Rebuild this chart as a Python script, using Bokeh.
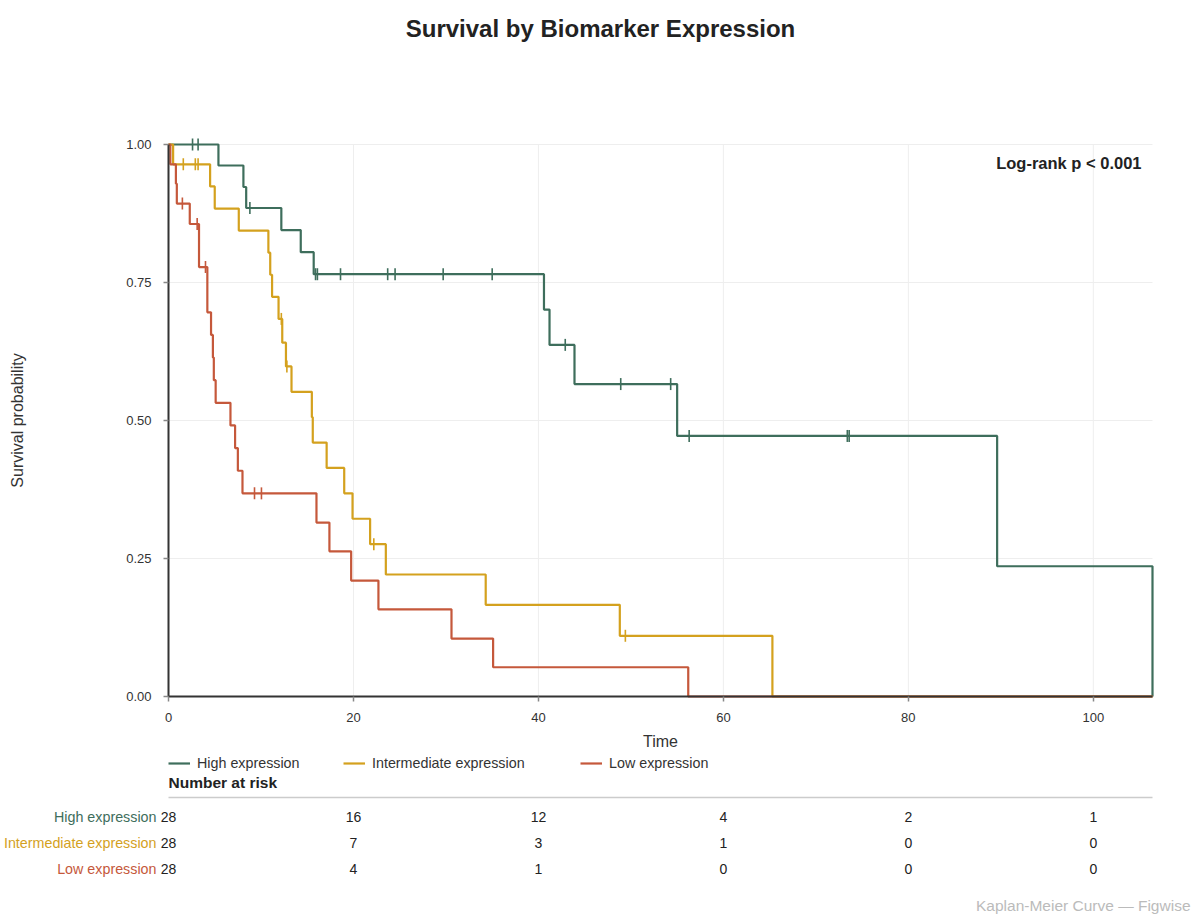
import math
from bokeh.plotting import figure
from bokeh.models import (Range1d, Label, Legend, LegendItem, ColumnDataSource, FixedTicker,
                          NumeralTickFormatter)
from bokeh.core.properties import value
from bokeh.embed import file_html
from bokeh.resources import INLINE

FONT = "Liberation Sans"

groups = ["High expression", "Intermediate expression", "Low expression"]
colors = ["#3e6e5c", "#d4a11e", "#c5583b"]

# Kaplan-Meier step curves (time, survival)
high_t = [0, 5.4, 8.1, 8.4, 12.2, 14.3, 15.7, 40.6, 41.2, 43.9, 55.0, 89.6, 106.4]
high_s = [1.0, 0.962, 0.923, 0.885, 0.845, 0.805, 0.765, 0.701, 0.637, 0.566, 0.472, 0.236, 0.0]
high_ct = [2.6, 3.2, 8.8, 15.9, 16.1, 18.6, 23.7, 24.5, 29.7, 35.0, 42.9, 48.9, 54.3, 56.3, 73.4, 73.6]
high_cs = [1.0, 1.0, 0.885, 0.765, 0.765, 0.765, 0.765, 0.765, 0.765, 0.765, 0.637, 0.566, 0.566, 0.472, 0.472, 0.472]

inter_t = [0, 0.5, 4.5, 5.0, 7.6, 10.8, 11.0, 11.2, 11.9, 12.3, 12.7, 13.3, 15.5, 15.6, 17.1, 19.0,
           19.9, 21.8, 23.5, 34.3, 48.8, 65.3, 106.4]
inter_s = [1.0, 0.964, 0.924, 0.884, 0.844, 0.804, 0.764, 0.724, 0.684, 0.641, 0.598, 0.552, 0.506,
           0.460, 0.414, 0.368, 0.322, 0.276, 0.221, 0.166, 0.110, 0.0, 0.0]
inter_ct = [1.6, 2.9, 3.2, 12.2, 12.8, 22.2, 49.4]
inter_cs = [0.964, 0.964, 0.964, 0.684, 0.598, 0.276, 0.110]

low_t = [0, 0.2, 0.8, 0.9, 2.3, 3.3, 4.2, 4.6, 4.8, 4.9, 5.1, 6.7, 7.2, 7.5, 8.0, 16.0, 17.4, 19.75,
         22.7, 30.6, 35.1, 56.2, 106.4]
low_s = [1.0, 0.964, 0.929, 0.893, 0.856, 0.778, 0.696, 0.655, 0.614, 0.573, 0.532, 0.491, 0.450,
         0.409, 0.368, 0.315, 0.263, 0.210, 0.158, 0.105, 0.053, 0.0, 0.0]
low_ct = [1.5, 3.1, 4.0, 9.3, 10.05]
low_cs = [0.893, 0.856, 0.778, 0.368, 0.368]

risk_times = [0, 20, 40, 60, 80, 100]
risk_high = [28, 16, 12, 4, 2, 1]
risk_inter = [28, 7, 3, 1, 0, 0]
risk_low = [28, 4, 1, 0, 0, 0]

x_ticks = [0, 20, 40, 60, 80, 100]
y_ticks = [0.0, 0.25, 0.5, 0.75, 1.0]
X_MAX = 106.4

# ---- page geometry (pixels) ----
W, H = 1192, 916
PX0, PX1 = 168, 1152      # x = 0 and x = X_MAX
PY0, PY1 = 696, 144       # survival 0 and 1
kx = (PX1 - PX0) / X_MAX
ky = (PY0 - PY1) / 1.0

def sy(Y):                # page y -> screen y (measured from bottom of frame)
    return H - Y

p = figure(width=W, height=H, min_border=0,
           x_range=Range1d(-PX0 / kx, (W - PX0) / kx),
           y_range=Range1d((PY0 - H) / ky, PY0 / ky),
           output_backend="svg", toolbar_location=None)
p.outline_line_color = None
p.background_fill_color = "white"
p.border_fill_color = "white"
p.xgrid.visible = False
p.ygrid.visible = False

for ax in (p.xaxis, p.yaxis):
    ax.fixed_location = 0
    ax.axis_line_color = "#333333"
    ax.axis_line_width = 2
    ax.major_tick_line_color = "#888888"
    ax.major_tick_line_width = 1.5
    ax.major_tick_out = 5
    ax.major_tick_in = 0
    ax.minor_tick_line_color = None
    ax.major_label_text_font = FONT
    ax.major_label_text_font_size = "13px"
    ax.major_label_text_color = "#333333"
    ax.axis_label_text_font = FONT
    ax.axis_label_text_font_size = "16px"
    ax.axis_label_text_font_style = "normal"
    ax.axis_label_text_color = "#333333"
p.xaxis.bounds = (0, X_MAX)
p.yaxis.bounds = (0, 1.0)
p.xaxis.ticker = FixedTicker(ticks=x_ticks)
p.yaxis.ticker = FixedTicker(ticks=y_ticks)
p.yaxis.formatter = NumeralTickFormatter(format="0.00")
p.xaxis.major_label_standoff = 11
p.yaxis.major_label_standoff = 12
p.xaxis.axis_label = "Time"
p.xaxis.axis_label_standoff = 8
p.yaxis.axis_label = "Survival probability"
p.yaxis.axis_label_standoff = 97

# grid lines, only over the plotting area
grid_c = "#eeeeee"
p.segment(x0=x_ticks[1:], y0=[0] * 5, x1=x_ticks[1:], y1=[1.0] * 5,
          line_color=grid_c, line_width=1, level="underlay")
p.segment(x0=[0] * 4, y0=y_ticks[1:], x1=[X_MAX] * 4, y1=y_ticks[1:],
          line_color=grid_c, line_width=1, level="underlay")

series = [(high_t, high_s, high_ct, high_cs), (inter_t, inter_s, inter_ct, inter_cs),
          (low_t, low_s, low_ct, low_cs)]
renderers = []
for (t, s, ct, cs), c in zip(series, colors):
    r = p.step(t, s, mode="after", line_color=c, line_width=2.2)
    p.scatter(ct, cs, marker="dash", angle=math.pi / 2, size=12, line_color=c, line_width=1.6)
    renderers.append(r)

def lab(text, X, Y, **kw):
    opts = dict(x=X, y=sy(Y), x_units="screen", y_units="screen", text=text,
                text_font=FONT, text_baseline="middle")
    opts.update(kw)
    p.add_layout(Label(**opts))

lab("Survival by Biomarker Expression", 600, 28, text_align="center",
    text_font_size="24px", text_font_style="bold", text_color="#222222")
lab("Log-rank p < 0.001", 1141, 162, text_align="right", text_font_size="16.5px",
    text_font_style="bold", text_color="#222222")
lab("Number at risk", PX0, 782, text_align="left", text_font_size="15.5px",
    text_font_style="bold", text_color="#222222")
lab("Kaplan-Meier Curve \u2014 Figwise", 1190, 905, text_align="right",
    text_font_size="15.5px", text_color="#bbbbbb")

legend_x = [168, 343, 580]
for r, g, lx in zip(renderers, groups, legend_x):
    leg = Legend(items=[LegendItem(label=g, renderers=[r])], location=(lx, sy(771)),
                 orientation="horizontal", padding=0, margin=0, spacing=0,
                 border_line_color=None, background_fill_alpha=0,
                 glyph_width=22, glyph_height=14, label_height=16, label_standoff=7,
                 label_text_font=FONT, label_text_font_size="14.3px", label_text_color="#333333")
    p.add_layout(leg, "center")

# separator under "Number at risk"
sep_y = (PY0 - 797) / ky
p.segment(x0=[0], y0=[sep_y], x1=[X_MAX], y1=[sep_y], line_color="#cccccc", line_width=1.5)

row_Y = [816, 842, 868]
for counts, g, c, RY in zip([risk_high, risk_inter, risk_low], groups, colors, row_Y):
    ry = (PY0 - RY) / ky
    src = ColumnDataSource(dict(x=risk_times, y=[ry] * len(risk_times), t=[str(v) for v in counts]))
    p.text(x="x", y="y", text="t", source=src, text_align="center", text_baseline="middle",
           text_font=value(FONT), text_font_size="14px", text_color="#222222")
    p.text(x=[0], y=[ry], text=[g], x_offset=-12, text_align="right", text_baseline="middle",
           text_font=value(FONT), text_font_size="14.3px", text_color=c)

open("out.html", "w").write(file_html(p, INLINE))
